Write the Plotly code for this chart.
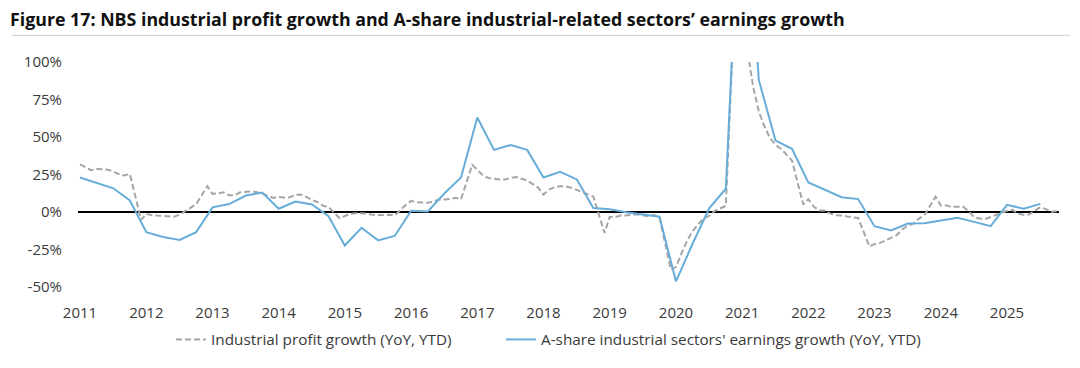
import plotly.graph_objects as go
import pandas as pd

# ---- Data (values in %, year-to-date YoY) ----
# NBS industrial profit growth, monthly (Jan-Feb combined, so no January point), Mar 2011 - Dec 2025
ip_growth = [
    31.8, 29.7, 27.9, 28.7, 28.3, 28.2, 27.0, 25.3, 24.4, 25.4,                 # 2011 Mar-Dec
    -5.2, -1.3, -2.2, -2.4, -2.2, -2.7, -3.1, -1.8, 0.5, 3.0, 5.3,              # 2012
    17.2, 12.1, 12.4, 13.2, 11.1, 11.1, 13.1, 13.5, 13.7, 13.2, 12.2,           # 2013
    9.4, 10.1, 9.6, 9.8, 11.4, 11.6, 10.0, 7.9, 6.7, 4.2, 3.3,                  # 2014
    -4.2, -2.7, -1.3, -0.8, -0.7, -1.0, -1.9, -1.7, -2.0, -1.9, -2.3,           # 2015
    4.8, 7.4, 6.5, 6.4, 6.2, 6.9, 8.4, 8.4, 8.6, 9.4, 8.5,                      # 2016
    31.5, 28.3, 24.4, 22.7, 22.0, 21.6, 21.6, 22.8, 23.3, 21.9, 21.0,           # 2017
    16.1, 11.6, 15.0, 16.5, 17.2, 17.1, 16.2, 14.7, 13.6, 11.8, 10.3,           # 2018
    -14.0, -3.3, -3.4, -2.3, -2.4, -1.7, -1.7, -2.1, -2.9, -2.1, -3.3,          # 2019
    -38.3, -36.7, -27.4, -19.3, -12.8, -8.1, -4.4, -2.4, 0.7, 2.4, 4.1,         # 2020
    178.9, 137.3, 106.0, 83.4, 66.9, 57.3, 49.5, 44.7, 42.2, 38.0, 34.3,        # 2021
    5.0, 8.5, 3.5, 1.0, 1.0, -1.1, -2.1, -2.3, -3.0, -3.6, -4.0,                # 2022
    -22.9, -21.4, -20.6, -18.8, -16.8, -15.5, -11.7, -9.0, -7.8, -4.4, -2.3,    # 2023
    10.2, 4.3, 4.3, 3.4, 3.5, 3.6, 0.5, -3.5, -4.3, -4.7, -3.3,                 # 2024
    -0.3, 0.8, 1.4, -1.1, -1.8, -1.7, 0.9, 3.2, 1.9, 0.1, 0.6,                  # 2025
]
ip_months = [d.strftime("%Y-%m-%d")
             for d in pd.date_range("2011-03-01", "2025-12-01", freq="MS") if d.month != 1]

# A-share industrial sectors' earnings growth, quarterly (Q1, H1, Q1-3, FY), Q1 2011 - Q3 2025
eq_growth = [
    23.0, 19.5, 15.8, 7.7,       # 2011
    -13.4, -16.6, -18.6, -13.4,  # 2012
    3.1, 5.3, 11.0, 13.0,        # 2013
    2.2, 7.0, 5.0, -2.8,         # 2014
    -22.3, -10.5, -18.9, -16.0,  # 2015
    0.9, 0.4, 12.5, 23.0,        # 2016
    63.0, 41.4, 44.7, 41.4,      # 2017
    23.0, 26.8, 21.7, 2.6,       # 2018
    1.8, -0.2, -1.8, -3.1,       # 2019
    -46.3, -21.0, 2.6, 15.5,     # 2020
    250.0, 88.0, 47.6, 42.1,     # 2021
    19.7, 14.8, 9.9, 8.6,        # 2022
    -9.5, -12.3, -7.7, -7.5,     # 2023
    -5.7, -3.9, -6.6, -9.4,      # 2024
    4.8, 2.2, 5.4,               # 2025
]
eq_quarters = [d.strftime("%Y-%m-%d")
               for d in pd.date_range("2011-03-01", "2025-09-01", freq="3MS")]

year_labels = [str(y) for y in range(2011, 2026)]
year_ticks = [f"{y}-03-01" for y in range(2011, 2026)]
y_ticks = [-50, -25, 0, 25, 50, 75, 100]
y_ticktext = [f"{v}%" for v in y_ticks]

TITLE = "Figure 17: NBS industrial profit growth and A-share industrial-related sectors\u2019 earnings growth"
FONT = "Open Sans"
TXT = "#3a3a3a"

# The page body has an 8px default margin, so the figure is laid out 8px smaller
W, H = 1072, 360
ML, MR, MT, MB = 70, 21, 54, 78
PW = W - ML - MR
PH = H - MT - MB

fig = go.Figure()
fig.add_trace(go.Scatter(
    x=ip_months, y=ip_growth, mode="lines",
    name="Industrial profit growth (YoY, YTD)",
    line=dict(color="#A6A6A6", width=2, dash="6px,3px"),
    legend="legend",
))
fig.add_trace(go.Scatter(
    x=eq_quarters, y=eq_growth, mode="lines",
    name="A-share industrial sectors' earnings growth (YoY, YTD)",
    line=dict(color="#67ADD8", width=2),
    legend="legend2",
))

leg_common = dict(orientation="h", xanchor="left", y=-0.16, yanchor="top",
                  font=dict(family=FONT, size=15.3, color=TXT), bgcolor="rgba(0,0,0,0)",
                  itemwidth=30)

fig.update_layout(
    width=W, height=H,
    margin=dict(l=ML, r=MR, t=MT, b=MB),
    paper_bgcolor="white", plot_bgcolor="white",
    font=dict(family=FONT, color=TXT),
    title=dict(text=TITLE, x=2 / W, xanchor="left", xref="container",
               y=1 - 12 / H, yanchor="middle", yref="container",
               font=dict(family=FONT, size=17.8, color="#111111", weight="bold")),
    showlegend=True,
    legend=dict(x=(163 - ML) / PW, **leg_common),
    legend2=dict(x=(493 - ML) / PW, **leg_common),
    shapes=[dict(type="line", xref="paper", yref="paper",
                 x0=(4 - ML) / PW, x1=(1062 - ML) / PW,
                 y0=1 + (MT - 27) / PH, y1=1 + (MT - 27) / PH,
                 line=dict(color="#d0d0d0", width=1))],
)
fig.update_xaxes(
    type="date", range=["2011-02-18", "2025-12-13"],
    tickvals=year_ticks, ticktext=year_labels,
    showgrid=False, zeroline=False, showline=False,
    ticks="outside", ticklen=12, tickcolor="rgba(0,0,0,0)",
    tickfont=dict(family=FONT, size=15, color=TXT),
)
fig.update_yaxes(
    range=[-50, 100], tickvals=y_ticks, ticktext=y_ticktext,
    showgrid=False, showline=False,
    zeroline=True, zerolinecolor="black", zerolinewidth=1.5,
    ticks="outside", ticklen=12, tickcolor="rgba(0,0,0,0)",
    tickfont=dict(family=FONT, size=15, color=TXT),
)

fig.write_html("out.html")
